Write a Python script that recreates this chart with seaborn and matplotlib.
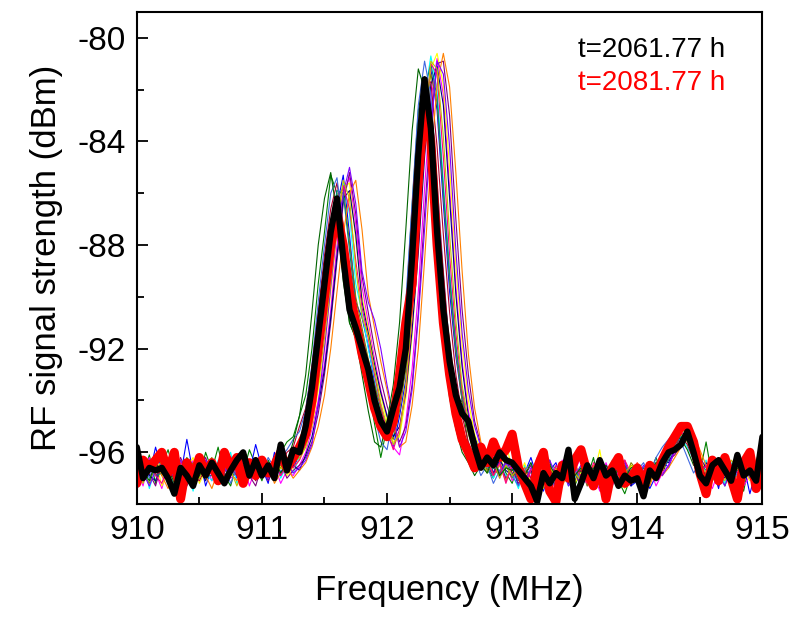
import numpy as np
import pandas as pd
import seaborn as sns
import matplotlib
matplotlib.use("Agg")
import matplotlib.pyplot as plt
from matplotlib.ticker import MultipleLocator

# frequency grid (MHz), 0.05 MHz steps
freq = np.linspace(910, 915, 101)

# t=2061.77 h (thick black)
black_trace = [
    -95.8, -97.0, -96.6, -96.7, -96.6, -97.0, -97.6, -96.6, -96.9, -97.3,
    -96.5, -96.9, -96.4, -96.8, -97.2, -96.7, -96.3, -96.0, -96.9, -96.3,
    -96.9, -96.5, -97.0, -95.7, -96.7, -95.9, -96.0, -95.0, -93.5, -91.5,
    -89.5, -87.5, -86.2, -88.5, -90.5, -91.2, -92.0, -92.8, -94.0, -94.8,
    -95.2, -94.3, -93.5, -92.0, -88.5, -84.5, -81.6, -83.5, -87.5, -90.5,
    -92.5, -93.8, -94.5, -94.8, -95.8, -96.6, -96.2, -96.5, -96.0, -96.3,
    -96.4, -96.7, -97.0, -97.3, -97.9, -96.8, -97.2, -96.8, -97.0, -95.9,
    -97.8, -97.2, -96.5, -97.0, -96.3, -96.9, -96.7, -97.3, -96.9, -97.1,
    -97.0, -97.7, -96.7, -97.0, -96.4, -96.0, -95.9, -95.7, -95.2, -96.0,
    -96.9, -97.2, -96.5, -96.3, -96.7, -97.1, -96.1, -96.9, -96.7, -97.1,
    -95.4,
]

# t=2081.77 h (thick red)
red_trace = [
    -97.2, -96.3, -96.6, -96.3, -96.0, -96.8, -96.0, -97.8, -96.4, -97.0,
    -96.2, -96.8, -96.4, -97.1, -96.0, -96.6, -96.2, -97.2, -96.4, -96.9,
    -96.3, -96.8, -96.5, -96.0, -96.6, -96.2, -95.8, -95.3, -94.0, -92.0,
    -90.0, -88.0, -86.8, -88.0, -89.8, -91.0, -92.2, -93.2, -94.3, -95.0,
    -95.4, -94.8, -93.0, -91.0, -89.5, -85.5, -82.5, -84.0, -88.0, -91.0,
    -93.0, -94.5, -95.5, -96.0, -96.6, -95.8, -96.4, -95.6, -96.2, -95.9,
    -95.3, -96.6, -97.2, -97.8, -96.6, -96.0, -97.5, -97.9, -96.5, -97.0,
    -96.3, -95.9, -96.8, -97.3, -96.5, -97.8, -96.6, -96.2, -97.2, -97.0,
    -96.6, -97.3, -96.5, -96.9, -96.3, -95.8, -95.4, -95.0, -95.0, -95.6,
    -96.8, -97.6, -96.3, -97.1, -96.2, -97.0, -97.8, -96.4, -96.0, -97.4,
    -96.8,
]

# intermediate scans (thin coloured lines)
scan_01 = [
    -96.3, -96.9, -96.1, -97.2, -96.5, -95.9, -96.8, -97.4, -96.2, -96.6,
    -97.0, -96.0, -96.7, -95.8, -96.9, -97.3, -96.4, -96.8, -95.9, -96.5,
    -97.1, -96.3, -96.8, -96.0, -95.6, -95.4, -94.6, -93.8, -92.0, -89.5,
    -87.5, -85.3, -86.0, -88.8, -91.0, -91.6, -92.8, -93.5, -94.9, -96.2,
    -95.0, -93.8, -92.5, -90.5, -86.5, -82.8, -81.5, -82.9, -86.5, -89.5,
    -92.4, -94.2, -94.0, -95.8, -96.3, -95.7, -96.6, -97.0, -96.2, -96.8,
    -97.2, -96.4, -96.9, -97.5, -96.6, -97.1, -96.3, -97.6, -96.8, -96.5,
    -97.3, -96.7, -97.0, -96.2, -97.4, -96.8, -96.4, -97.1, -97.6, -96.9,
    -96.6, -97.3, -96.8, -96.2, -96.9, -96.1, -95.7, -95.3, -95.5, -96.2,
    -96.8, -95.6, -97.0, -96.4, -97.3, -96.6, -96.9, -97.5, -96.3, -97.0,
    -96.5,
]
scan_02 = [
    -97.5, -96.4, -96.9, -95.8, -96.7, -97.1, -96.3, -96.9, -95.5, -96.8,
    -96.2, -97.3, -96.6, -96.9, -95.9, -96.5, -97.0, -96.1, -96.8, -95.7,
    -96.6, -97.2, -96.0, -96.8, -96.3, -96.6, -96.1, -95.3, -94.2, -92.8,
    -90.6, -88.4, -86.5, -85.3, -87.6, -90.2, -90.8, -91.9, -93.3, -94.6,
    -95.3, -95.8, -94.6, -93.2, -90.4, -86.8, -83.0, -81.2, -82.8, -86.4,
    -89.8, -92.3, -94.0, -95.2, -95.9, -96.4, -96.0, -96.8, -96.2, -97.1,
    -96.5, -97.3, -96.8, -96.2, -97.0, -97.5, -96.7, -96.4, -97.2, -96.9,
    -96.6, -97.4, -96.9, -97.2, -96.3, -97.6, -96.8, -97.0, -96.5, -97.3,
    -97.1, -96.7, -97.4, -96.9, -96.3, -96.6, -95.9, -95.6, -95.2, -95.7,
    -96.4, -97.2, -96.6, -97.4, -96.1, -96.8, -97.3, -96.5, -97.6, -96.7,
    -96.2,
]
scan_03 = [
    -96.6, -97.3, -96.2, -96.8, -97.4, -96.5, -96.0, -96.9, -97.1, -96.3,
    -96.9, -96.4, -97.1, -96.6, -96.2, -97.0, -96.8, -96.4, -97.3, -96.6,
    -96.2, -96.9, -96.5, -97.2, -96.7, -96.9, -96.5, -96.0, -95.1, -94.0,
    -92.6, -90.5, -88.0, -86.0, -85.4, -87.2, -89.6, -91.0, -92.4, -93.6,
    -94.6, -95.8, -96.1, -94.8, -92.8, -89.8, -85.8, -82.4, -80.8, -82.2,
    -85.8, -89.6, -92.5, -94.4, -95.5, -96.2, -96.7, -96.3, -97.0, -96.4,
    -97.1, -96.6, -97.4, -96.9, -96.2, -97.2, -96.8, -97.5, -96.3, -97.0,
    -96.7, -96.2, -97.3, -96.8, -97.5, -96.4, -97.1, -96.6, -97.2, -96.8,
    -96.4, -97.0, -96.6, -97.3, -96.8, -96.5, -96.0, -95.7, -95.4, -95.9,
    -96.5, -96.9, -97.4, -96.7, -96.2, -97.0, -96.6, -97.3, -96.9, -96.4,
    -96.0,
]
scan_04 = [
    -96.9, -96.2, -97.4, -96.6, -96.1, -96.9, -97.2, -96.4, -96.7, -97.5,
    -96.4, -96.8, -97.1, -96.3, -96.6, -96.0, -97.2, -96.7, -96.3, -97.0,
    -96.4, -96.8, -96.2, -97.0, -96.5, -96.8, -96.2, -95.6, -94.5, -93.0,
    -91.2, -89.0, -87.0, -85.6, -86.8, -89.5, -90.6, -92.0, -93.1, -94.4,
    -95.0, -95.4, -94.2, -92.6, -89.6, -85.9, -82.3, -80.7, -82.0, -85.6,
    -89.0, -91.8, -93.7, -95.1, -95.6, -96.5, -96.1, -97.0, -96.5, -96.9,
    -96.8, -97.4, -96.5, -97.1, -96.7, -96.3, -97.4, -96.9, -96.6, -97.3,
    -97.0, -96.5, -96.9, -97.4, -96.6, -97.1, -96.3, -97.2, -96.8, -96.6,
    -97.2, -96.5, -96.9, -96.6, -96.2, -95.9, -95.5, -95.4, -95.8, -96.3,
    -96.7, -96.3, -97.1, -96.8, -97.2, -96.4, -97.0, -96.6, -96.9, -97.2,
    -96.4,
]
scan_05 = [
    -96.4, -97.0, -96.7, -96.3, -97.3, -96.8, -96.5, -97.1, -96.6, -96.2,
    -97.2, -96.7, -96.3, -97.0, -96.5, -96.9, -96.2, -97.1, -96.6, -96.9,
    -96.8, -96.4, -97.0, -96.5, -96.9, -96.6, -96.3, -95.8, -95.0, -93.6,
    -92.0, -89.8, -87.5, -85.8, -85.6, -87.8, -90.0, -91.2, -92.6, -93.8,
    -94.8, -95.6, -95.4, -93.9, -91.5, -88.0, -84.2, -81.2, -80.6, -81.8,
    -85.0, -88.8, -91.8, -94.0, -95.3, -95.9, -96.6, -96.2, -96.9, -95.6,
    -96.7, -97.0, -96.4, -97.2, -96.8, -97.4, -96.5, -97.0, -96.7, -96.3,
    -97.2, -96.8, -96.4, -97.0, -95.9, -97.3, -96.7, -96.9, -97.4, -96.5,
    -96.8, -97.2, -96.5, -97.0, -96.5, -96.2, -95.8, -95.5, -95.1, -95.6,
    -96.0, -96.9, -96.5, -97.2, -96.6, -97.0, -96.2, -96.7, -97.1, -96.5,
    -95.9,
]
scan_06 = [
    -97.0, -96.5, -96.8, -97.3, -96.4, -96.7, -97.0, -96.2, -96.8, -97.1,
    -96.7, -96.2, -96.9, -97.2, -96.8, -96.3, -96.9, -96.5, -96.9, -97.3,
    -96.5, -97.1, -96.6, -96.4, -97.0, -96.7, -96.5, -96.2, -95.6, -94.5,
    -93.0, -91.0, -88.6, -86.4, -85.2, -86.8, -89.2, -90.6, -92.0, -93.2,
    -94.2, -95.0, -95.6, -95.0, -93.4, -90.6, -86.8, -83.2, -81.0, -80.9,
    -83.0, -87.0, -90.5, -93.0, -94.8, -95.7, -96.3, -96.8, -96.4, -97.0,
    -96.6, -97.2, -96.9, -96.5, -97.3, -96.8, -96.6, -97.4, -96.7, -97.1,
    -96.8, -97.3, -96.6, -96.9, -97.2, -96.5, -97.0, -96.7, -96.3, -97.2,
    -96.9, -96.6, -97.1, -96.7, -96.6, -96.3, -96.1, -95.7, -95.3, -95.5,
    -96.2, -96.6, -96.9, -97.3, -96.8, -96.5, -97.2, -96.8, -96.3, -96.7,
    -96.3,
]
scan_07 = [
    -96.2, -96.8, -97.2, -96.5, -96.9, -96.3, -96.6, -97.2, -96.8, -96.4,
    -96.8, -96.5, -96.2, -97.1, -96.7, -96.4, -96.8, -97.2, -96.4, -96.7,
    -97.0, -96.7, -96.4, -96.6, -96.2, -96.4, -95.9, -95.2, -94.0, -92.5,
    -90.3, -88.0, -86.2, -85.8, -87.9, -90.0, -91.2, -92.4, -93.4, -94.3,
    -95.1, -95.5, -94.4, -92.8, -89.9, -86.2, -82.8, -81.4, -82.5, -86.0,
    -89.4, -92.1, -94.0, -95.3, -96.1, -96.0, -96.7, -96.3, -96.8, -96.5,
    -97.0, -96.5, -97.2, -96.7, -97.0, -96.4, -97.3, -96.8, -97.0, -96.6,
    -97.1, -96.6, -97.3, -96.7, -96.9, -97.2, -96.5, -96.8, -97.1, -96.4,
    -96.7, -96.9, -97.2, -96.4, -96.7, -96.0, -95.6, -95.3, -95.6, -96.1,
    -96.6, -97.0, -96.4, -96.9, -96.5, -97.1, -96.7, -96.2, -96.8, -97.0,
    -96.1,
]
scan_08 = [
    -96.7, -96.4, -96.9, -97.1, -96.3, -97.2, -96.6, -96.8, -97.3, -96.5,
    -96.6, -97.1, -96.5, -96.8, -97.1, -96.6, -96.1, -96.7, -97.0, -96.4,
    -96.3, -96.6, -96.9, -96.3, -96.8, -96.5, -96.7, -96.1, -95.4, -94.2,
    -92.8, -90.8, -88.4, -86.2, -85.9, -87.6, -90.2, -91.4, -92.6, -93.7,
    -94.6, -95.4, -95.0, -93.7, -91.3, -88.3, -84.6, -81.8, -81.1, -82.6,
    -86.2, -89.9, -92.7, -94.6, -95.4, -96.1, -96.5, -96.9, -96.3, -96.7,
    -96.9, -96.4, -97.0, -96.7, -97.4, -96.6, -97.0, -96.7, -96.4, -97.2,
    -96.5, -97.0, -96.7, -97.3, -96.8, -96.6, -97.2, -96.5, -96.9, -97.3,
    -96.5, -97.1, -96.8, -96.9, -96.4, -96.4, -95.9, -95.6, -95.5, -96.0,
    -96.9, -96.4, -96.8, -96.6, -97.0, -96.7, -96.4, -97.1, -96.6, -96.9,
    -96.6,
]
scan_09 = [
    -96.5, -96.9, -96.3, -96.9, -96.7, -96.4, -97.1, -96.6, -96.4, -96.9,
    -97.1, -96.6, -96.8, -96.4, -96.9, -96.6, -96.9, -96.5, -96.7, -97.1,
    -96.7, -96.9, -96.4, -96.5, -96.0, -95.8, -95.0, -94.3, -92.8, -90.6,
    -88.4, -86.6, -85.6, -87.2, -89.6, -90.8, -91.8, -92.8, -93.9, -94.9,
    -95.4, -94.6, -93.2, -91.5, -88.0, -84.4, -81.8, -81.7, -84.2, -87.6,
    -90.6, -93.0, -94.6, -95.6, -96.2, -96.6, -96.2, -96.6, -96.9, -96.3,
    -96.8, -96.9, -96.6, -97.0, -96.5, -96.9, -96.6, -97.1, -96.6, -96.8,
    -96.9, -96.7, -97.0, -96.5, -97.1, -96.9, -96.6, -96.6, -97.0, -96.7,
    -96.9, -96.8, -96.6, -96.8, -96.4, -96.2, -95.8, -95.4, -95.7, -96.3,
    -96.7, -96.8, -96.7, -96.6, -96.9, -96.8, -96.5, -96.9, -96.5, -96.8,
    -96.2,
]
scan_10 = [
    -96.8, -96.6, -96.5, -96.9, -96.8, -96.6, -96.4, -96.9, -97.0, -96.7,
    -96.5, -96.9, -96.9, -96.4, -96.6, -96.8, -96.6, -96.9, -96.5, -96.8,
    -96.5, -96.6, -96.7, -96.3, -96.6, -96.3, -96.0, -95.5, -94.4, -92.2,
    -89.8, -87.4, -85.9, -86.0, -88.2, -90.4, -91.4, -92.6, -93.6, -94.6,
    -95.3, -95.2, -94.0, -92.2, -89.2, -85.4, -82.0, -81.0, -82.3, -85.8,
    -89.2, -91.9, -93.8, -95.0, -95.9, -96.3, -96.8, -96.6, -96.7, -96.6,
    -96.6, -97.1, -96.7, -96.8, -96.9, -97.0, -96.5, -96.6, -97.1, -96.6,
    -96.8, -96.9, -96.5, -96.8, -96.9, -96.7, -96.9, -97.0, -96.5, -96.9,
    -96.8, -96.6, -96.9, -96.5, -96.6, -96.3, -95.7, -95.4, -95.4, -95.9,
    -96.4, -96.7, -96.8, -96.5, -96.8, -96.9, -96.7, -96.6, -96.8, -96.6,
    -96.7,
]
scan_11 = [
    -96.6, -97.1, -96.8, -96.2, -96.9, -97.4, -96.5, -96.3, -97.0, -96.8,
    -96.3, -96.9, -97.4, -96.7, -96.1, -96.8, -97.1, -96.4, -96.9, -96.6,
    -96.9, -96.5, -97.2, -96.8, -96.6, -97.0, -96.7, -96.4, -95.8, -95.0,
    -93.8, -92.0, -89.8, -87.6, -86.0, -85.5, -87.4, -89.9, -91.2, -92.5,
    -93.6, -94.8, -95.8, -95.6, -94.2, -92.0, -88.6, -84.8, -81.8, -80.6,
    -81.9, -85.2, -89.0, -92.2, -94.3, -95.6, -96.2, -96.9, -96.5, -97.1,
    -96.4, -97.0, -96.6, -97.3, -96.9, -96.4, -97.0, -96.6, -97.3, -96.8,
    -96.3, -97.1, -96.8, -96.5, -97.2, -96.9, -96.4, -97.3, -96.7, -97.0,
    -96.4, -96.9, -97.3, -96.6, -96.9, -96.6, -96.2, -95.8, -95.4, -95.3,
    -95.9, -96.5, -97.1, -96.7, -96.4, -97.2, -96.9, -96.4, -97.0, -96.3,
    -95.7,
]
scan_12 = [
    -96.9, -96.4, -97.0, -96.5, -96.2, -96.9, -96.6, -97.3, -96.5, -96.9,
    -96.4, -97.0, -96.3, -96.9, -96.5, -97.2, -96.6, -96.3, -97.0, -96.4,
    -96.9, -96.2, -96.6, -96.2, -95.9, -95.5, -95.2, -94.4, -92.6, -90.2,
    -88.0, -86.0, -85.4, -87.4, -90.2, -91.0, -92.2, -93.2, -94.6, -95.6,
    -95.9, -94.6, -92.8, -90.2, -86.4, -82.6, -80.9, -82.2, -85.6, -89.0,
    -92.0, -94.0, -95.2, -96.0, -96.2, -96.9, -96.5, -97.2, -96.7, -96.4,
    -96.9, -97.3, -96.7, -96.4, -97.1, -96.6, -96.9, -97.4, -96.5, -96.9,
    -96.4, -97.2, -96.7, -96.9, -96.6, -97.3, -96.8, -96.4, -96.9, -97.2,
    -96.7, -96.4, -96.9, -96.2, -95.8, -95.5, -95.2, -95.6, -96.2, -96.8,
    -96.4, -97.1, -96.6, -96.9, -96.4, -97.2, -96.8, -96.5, -97.0, -96.8,
    -96.9,
]
scan_13 = [
    -96.4, -96.8, -97.3, -96.7, -96.4, -97.0, -96.8, -96.3, -96.9, -97.2,
    -96.8, -96.3, -96.7, -97.2, -96.6, -96.9, -96.4, -97.0, -96.6, -96.2,
    -96.6, -97.0, -96.5, -96.9, -96.4, -96.8, -96.6, -96.3, -95.7, -94.2,
    -92.0, -89.6, -87.4, -86.0, -85.0, -86.4, -89.0, -90.2, -90.9, -92.0,
    -93.4, -94.6, -95.8, -95.2, -93.6, -90.8, -87.4, -83.6, -80.9, -81.4,
    -84.2, -88.2, -91.4, -93.6, -95.0, -95.8, -96.4, -96.1, -96.9, -96.4,
    -96.6, -96.9, -97.2, -96.6, -96.8, -97.1, -96.3, -96.9, -96.6, -97.3,
    -96.9, -96.5, -96.8, -97.1, -96.6, -96.9, -97.3, -96.7, -96.4, -96.9,
    -97.0, -96.5, -96.8, -96.6, -96.9, -96.5, -95.9, -95.5, -95.2, -95.8,
    -96.3, -96.9, -96.6, -96.9, -97.3, -96.6, -96.8, -96.4, -96.9, -97.1,
    -96.5,
]
scan_14 = [
    -97.1, -96.6, -96.4, -96.9, -97.2, -96.5, -96.9, -96.4, -96.7, -97.0,
    -96.6, -96.9, -96.3, -96.6, -97.1, -96.5, -96.8, -96.3, -96.9, -96.6,
    -96.5, -96.8, -96.3, -96.9, -96.5, -96.6, -96.3, -95.7, -94.8, -93.2,
    -90.9, -88.8, -86.8, -85.7, -86.6, -88.6, -90.4, -91.6, -93.0, -94.2,
    -95.2, -95.9, -95.1, -93.6, -90.8, -87.0, -83.4, -81.0, -81.4, -84.6,
    -88.4, -91.4, -93.6, -95.0, -95.8, -96.6, -96.3, -96.9, -96.4, -97.2,
    -96.5, -96.8, -97.3, -96.7, -96.4, -96.9, -97.2, -96.5, -96.8, -97.0,
    -96.6, -96.9, -97.2, -96.4, -96.8, -97.1, -96.6, -96.9, -96.3, -96.8,
    -97.1, -96.7, -96.5, -97.0, -96.5, -96.1, -95.6, -95.2, -95.5, -96.0,
    -96.8, -96.5, -96.9, -97.2, -96.5, -96.8, -97.1, -96.7, -96.4, -97.1,
    -96.0,
]
scan_15 = [
    -96.7, -97.2, -96.5, -96.8, -96.3, -97.0, -96.7, -96.5, -97.2, -96.6,
    -97.0, -96.5, -96.8, -97.2, -96.4, -96.7, -97.3, -96.6, -96.5, -96.9,
    -96.7, -96.5, -96.9, -96.6, -96.8, -96.4, -96.2, -95.8, -94.9, -93.4,
    -91.6, -89.4, -87.2, -85.5, -86.2, -88.9, -90.8, -91.5, -92.8, -94.1,
    -95.0, -95.7, -95.3, -93.4, -90.6, -87.2, -83.6, -80.9, -81.2, -83.8,
    -87.6, -90.9, -93.4, -94.8, -95.8, -96.2, -96.8, -96.3, -97.0, -96.5,
    -96.9, -96.6, -96.9, -97.2, -96.6, -96.8, -96.5, -97.1, -96.9, -96.4,
    -96.8, -97.1, -96.6, -96.9, -96.5, -96.8, -97.2, -96.6, -96.8, -96.5,
    -96.6, -97.1, -96.9, -96.6, -96.3, -96.0, -95.5, -95.1, -95.3, -95.8,
    -96.5, -96.8, -96.4, -96.8, -97.1, -96.3, -96.6, -97.0, -96.5, -96.6,
    -95.8,
]
scan_16 = [
    -96.5, -96.7, -97.1, -96.4, -96.8, -96.6, -97.2, -96.7, -96.4, -96.8,
    -96.9, -96.4, -96.8, -96.5, -97.0, -96.4, -96.7, -96.9, -96.5, -96.8,
    -96.4, -96.7, -96.3, -96.8, -96.4, -95.6, -94.6, -93.0, -90.6, -88.0,
    -86.2, -85.2, -86.8, -89.4, -91.0, -91.6, -93.0, -94.4, -95.6, -95.8,
    -94.8, -93.4, -91.0, -87.4, -83.6, -81.2, -82.0, -85.0, -88.6, -91.8,
    -93.9, -95.1, -96.0, -96.4, -96.9, -96.5, -96.8, -96.2, -96.9, -96.6,
    -96.7, -96.5, -96.9, -96.4, -97.1, -96.7, -96.5, -96.9, -96.7, -96.5,
    -96.9, -96.6, -96.9, -96.6, -96.8, -96.5, -96.9, -96.7, -97.0, -96.6,
    -96.5, -96.9, -96.7, -96.4, -96.2, -95.7, -95.3, -95.5, -95.9, -96.5,
    -96.6, -96.9, -96.5, -96.8, -96.6, -96.9, -96.6, -96.8, -96.7, -96.5,
    -96.6,
]

scans = [scan_01, scan_02, scan_03, scan_04, scan_05, scan_06, scan_07, scan_08,
         scan_09, scan_10, scan_11, scan_12, scan_13, scan_14, scan_15, scan_16]
scan_colors = ["#008000", "#0000FF", "#FF00FF", "#00FFFF", "#FFFF00",
               "#800080", "#808000", "#000080", "#B00030", "#008080",
               "#FF8000", "#4169E1", "#8000FF", "#FF0080", "#C0C000", "#006400"]

label_black = "t=2061.77 h"
label_red = "t=2081.77 h"

# long table for seaborn
df = pd.concat(
    [pd.DataFrame({"freq": freq, "dbm": s, "scan": f"s{i:02d}"})
     for i, s in enumerate(scans)],
    ignore_index=True,
)

sns.set_style("ticks")
plt.rcParams["font.family"] = ["Liberation Sans", "DejaVu Sans"]
plt.rcParams["axes.unicode_minus"] = False

fig = plt.figure(figsize=(8, 6.27), dpi=100)
ax = fig.add_axes([0.171, 0.196, 0.782, 0.785])

sns.lineplot(data=df, x="freq", y="dbm", hue="scan", palette=scan_colors,
             estimator=None, sort=False, linewidth=0.8, legend=False, ax=ax)
sns.lineplot(x=freq, y=red_trace, color="#FF0000", linewidth=6.5,
             estimator=None, sort=False, ax=ax)
sns.lineplot(x=freq, y=black_trace, color="black", linewidth=4.5,
             estimator=None, sort=False, ax=ax)

ax.set_xlim(910, 915)
ax.set_ylim(-98, -79)
ax.xaxis.set_major_locator(MultipleLocator(1))
ax.xaxis.set_minor_locator(MultipleLocator(0.5))
ax.yaxis.set_major_locator(MultipleLocator(4))
ax.yaxis.set_minor_locator(MultipleLocator(2))
ax.set_yticks([-96, -92, -88, -84, -80])
ax.tick_params(which="both", direction="in", top=False, right=False,
               width=1.3, labelsize=24, pad=8, colors="black")
ax.tick_params(which="major", length=8)
ax.tick_params(which="minor", length=5)
for sp in ax.spines.values():
    sp.set_visible(True)
    sp.set_linewidth(1.5)
    sp.set_color("black")

ax.set_xlabel("Frequency (MHz)", fontsize=25, labelpad=20, color="black")
ax.set_ylabel("RF signal strength (dBm)", fontsize=25, labelpad=10, color="black")

ax.text(0.941, 0.922, label_black, transform=ax.transAxes, ha="right",
        va="center", fontsize=20, color="black")
ax.text(0.941, 0.856, label_red, transform=ax.transAxes, ha="right",
        va="center", fontsize=20, color="#FF0000")

fig.savefig("out.png", dpi=100)
